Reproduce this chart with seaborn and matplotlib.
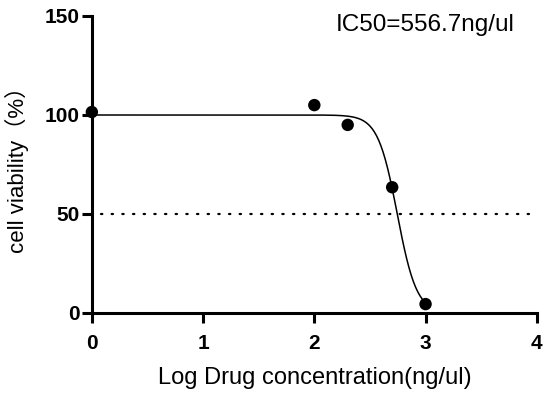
import numpy as np
import pandas as pd
import seaborn as sns
import matplotlib.pyplot as plt

# Measured points (log concentration vs viability %)
log_conc = [0.0, 2.0, 2.3, 2.7, 3.0]
viability = [101.5, 105.0, 95.0, 63.5, 4.5]

# Fitted dose-response curve parameters
top = 100.0
bottom = 0.0
ic50 = 556.7
hill = 5.0

x_ticks = [0, 1, 2, 3, 4]
y_ticks = [0, 50, 100, 150]

sns.set_style("ticks")
plt.rcParams['font.family'] = ['Liberation Sans', 'Noto Sans CJK SC']
plt.rcParams.update({'text.color': 'black', 'axes.labelcolor': 'black',
                     'axes.edgecolor': 'black', 'xtick.color': 'black',
                     'ytick.color': 'black'})

pts = pd.DataFrame({'x': log_conc, 'y': viability})
xs = np.linspace(0, 3, 300)
fit = pd.DataFrame({'x': xs,
                    'y': bottom + (top - bottom) / (1 + 10 ** ((xs - np.log10(ic50)) * hill))})

fig = plt.figure(figsize=(5.5, 4), dpi=100)
ax = fig.add_axes([0.167, 0.2175, 0.809, 0.7425])

ax.axhline(50, xmin=0.02, xmax=0.99, color='black', lw=1.6,
           ls=(0, (0.6, 4.2)), dash_capstyle='round')
sns.lineplot(data=fit, x='x', y='y', ax=ax, color='black', lw=1.1)
sns.scatterplot(data=pts, x='x', y='y', ax=ax, color='black', s=80,
                edgecolor='none', clip_on=False, zorder=5)

ax.set_xlim(0, 4)
ax.set_ylim(0, 150)
ax.set_xticks(x_ticks)
ax.set_yticks(y_ticks)
for lab in ax.get_xticklabels() + ax.get_yticklabels():
    lab.set_fontweight('bold')
ax.tick_params(labelsize=15, width=2.2, length=7, direction='out')
ax.tick_params(axis='x', pad=8)
ax.tick_params(axis='y', pad=2)
for s in ['left', 'bottom']:
    ax.spines[s].set_linewidth(2.2)
sns.despine(ax=ax)

ax.set_xlabel('Log Drug concentration(ng/ul)', fontsize=17, va='center')
ax.xaxis.set_label_coords(0.5, -0.219)
ax.set_ylabel('cell viability（%）', fontsize=16, va='center')
ax.yaxis.set_label_coords(-0.169, 0.5)
fig.text(336 / 550, 1 - 25 / 400, 'IC50=556.7ng/ul', fontsize=17.5,
         ha='left', va='center')

fig.savefig('out.png', dpi=100)
